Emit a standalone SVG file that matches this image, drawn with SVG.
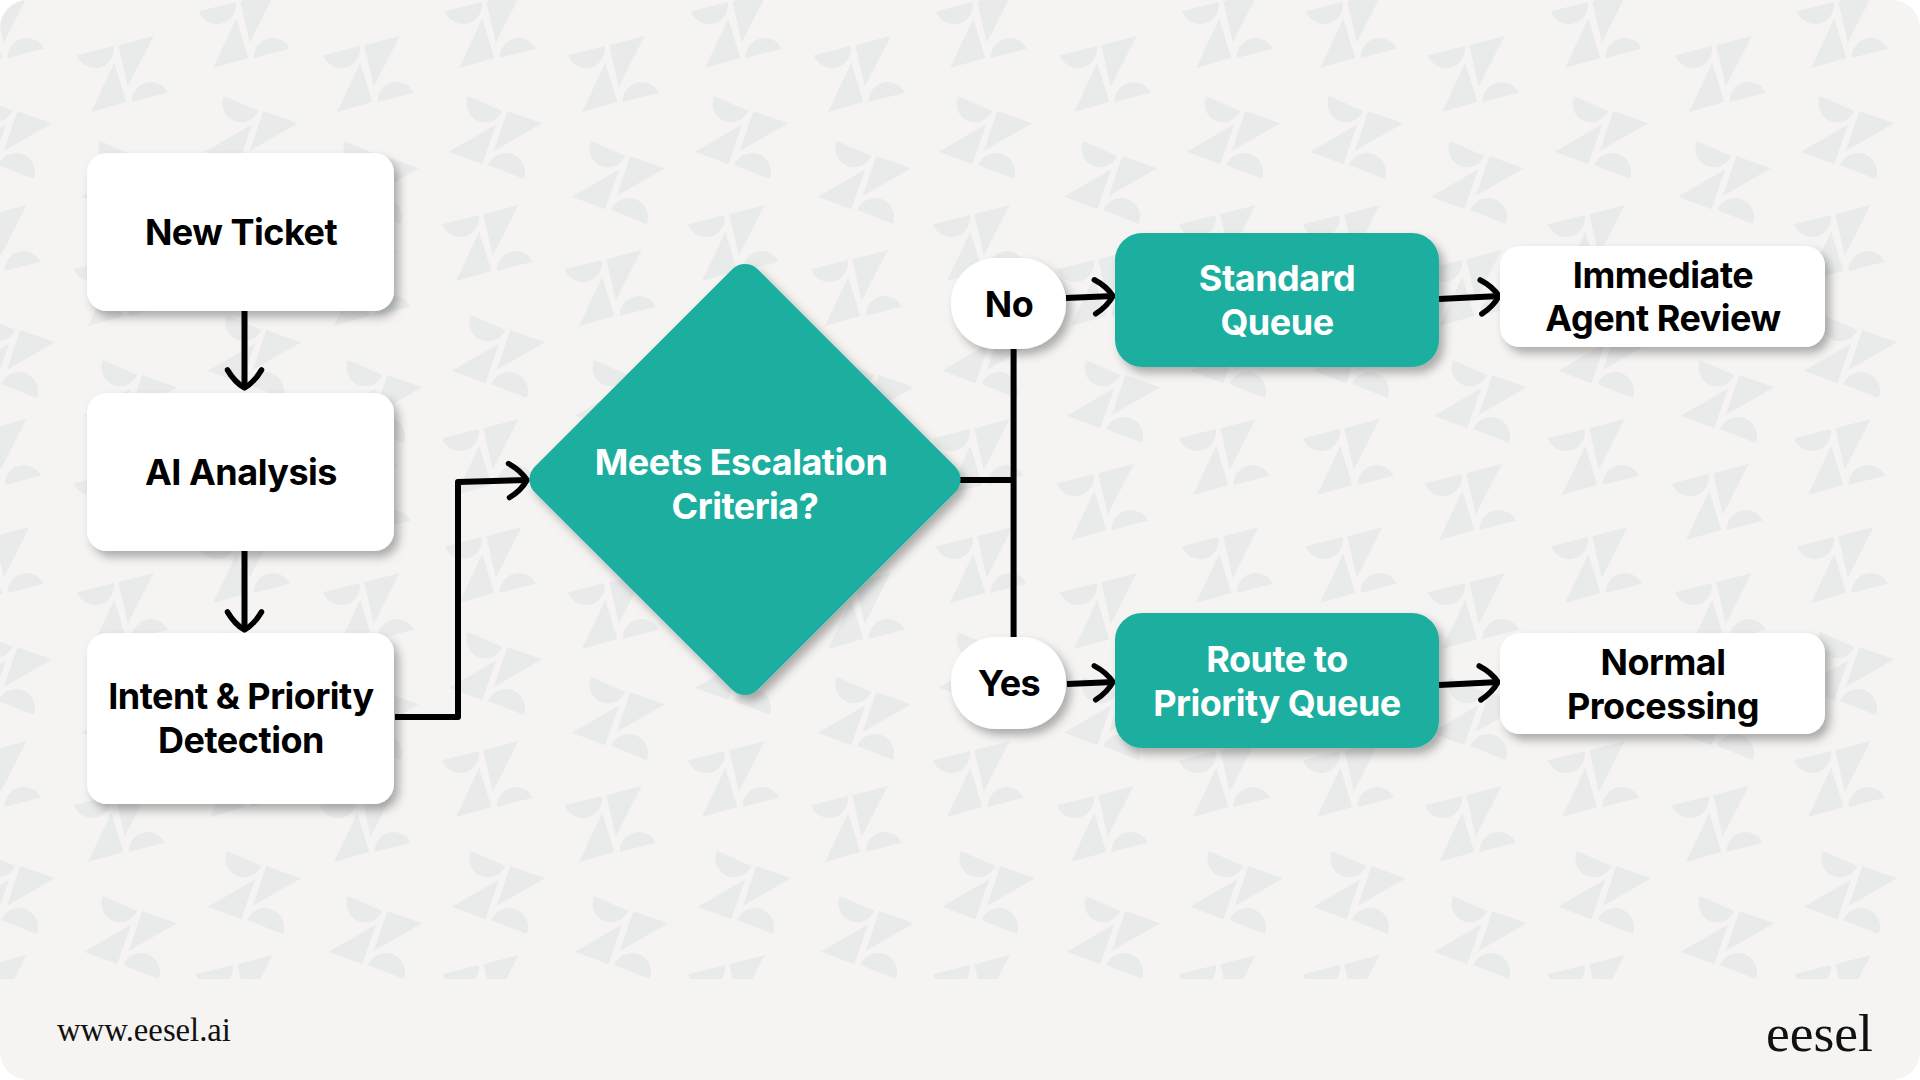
<svg xmlns="http://www.w3.org/2000/svg" xmlns:xlink="http://www.w3.org/1999/xlink" width="1920" height="1080" viewBox="0 0 1920 1080">
<style>
.wm{fill:#e9ebea}
.t{font-family:"Inter","Liberation Sans",sans-serif;font-size:36px;font-weight:700;letter-spacing:-0.5px;text-anchor:middle;fill:#000}
.w{fill:#fff}
.box{fill:#fff}
.teal{fill:#1dafa0}
.sh{filter:url(#shadow)}
.c{fill:none;stroke:#000;stroke-width:6;stroke-linejoin:round}
.f{font-family:"Liberation Serif",serif;fill:#111}
</style>
<defs>
<filter id="shadow" x="-20%" y="-20%" width="145%" height="145%"><feDropShadow dx="5" dy="6" stdDeviation="5" flood-color="#000" flood-opacity="0.3"/></filter>
<marker id="head" markerUnits="userSpaceOnUse" markerWidth="30" markerHeight="44" refX="24" refY="22" orient="auto" overflow="visible">
<path d="M5,5 Q17,12 23,22 Q17,32 5,39" fill="none" stroke="#000" stroke-width="5.5" stroke-linecap="round" stroke-linejoin="round"/>
</marker>
<clipPath id="wmclip"><rect x="0" y="0" width="1920" height="979"/></clipPath>
<clipPath id="card"><rect x="0" y="0" width="1920" height="1080" rx="28"/></clipPath>
<g id="A" class="wm"><path d="M0,19.3A19,19 0 0 0 36.7,10Z"/><path d="M41.3,9.3L76.7,0L50.7,50.7Z"/><path d="M37.3,26.7L49.3,66L14,76Z"/><path d="M54.7,66A19,19 0 0 1 90.7,56.7Z"/></g>
<g id="B" class="wm"><path d="M19,0A18.7,18.7 0 0 0 53.3,15Z"/><path d="M58.3,15L93,27.3L44.7,55Z"/><path d="M47.3,28.3L33.3,68.3L0,55.7Z"/><path d="M39.3,69A18.9,18.9 0 0 1 74.7,83Z"/></g>
<g id="AP"><use href="#A" x="-47"/><use href="#A" x="199"/><use href="#A" x="445"/><use href="#A" x="691"/><use href="#A" x="936"/><use href="#A" x="1182"/><use href="#A" x="1306"/><use href="#A" x="1551"/><use href="#A" x="1797"/></g>
<g id="AQ"><use href="#A" x="77"/><use href="#A" x="323"/><use href="#A" x="568"/><use href="#A" x="814"/><use href="#A" x="1060"/><use href="#A" x="1428"/><use href="#A" x="1675"/></g>
<g id="BP"><use href="#B" x="-41"/><use href="#B" x="205"/><use href="#B" x="449"/><use href="#B" x="695"/><use href="#B" x="939"/><use href="#B" x="1187"/><use href="#B" x="1310"/><use href="#B" x="1555"/><use href="#B" x="1801"/></g>
<g id="BQ"><use href="#B" x="81"/><use href="#B" x="326"/><use href="#B" x="572"/><use href="#B" x="818"/><use href="#B" x="1064"/><use href="#B" x="1431"/><use href="#B" x="1678"/></g>
</defs>
<rect width="1920" height="1080" fill="#fff"/>
<g id="background" clip-path="url(#card)">
<rect width="1920" height="1080" fill="#f5f4f2"/>
<g clip-path="url(#wmclip)">
<use href="#AP" y="-8"/><use href="#AQ" y="36"/><use href="#BP" y="96"/><use href="#BQ" y="141"/>
<use href="#AP" x="-3" y="205"/><use href="#AQ" x="-3" y="250"/><use href="#BP" x="3" y="315"/><use href="#BQ" x="3" y="360"/>
<use href="#AP" x="-3" y="419"/><use href="#AQ" x="-3" y="464"/><use href="#AP" y="527"/><use href="#AQ" y="573"/>
<use href="#BP" y="632"/><use href="#BQ" y="677"/><use href="#AP" x="-3" y="741"/><use href="#AQ" x="-3" y="786"/>
<use href="#BP" x="3" y="851"/><use href="#BQ" x="3" y="896"/><use href="#AP" x="-3" y="955"/>
</g>
</g>
<g id="connectors">
<path class="c" d="M244.5,311V389" marker-end="url(#head)"/>
<path class="c" d="M244.5,551V631" marker-end="url(#head)"/>
<path class="c" stroke-width="6.5" d="M395,717H458V482L528,480" marker-end="url(#head)"/>
<path class="c" d="M959,480H1013"/>
<path class="c" d="M1013.6,349V637"/>
<path class="c" d="M1066,298L1114,296" marker-end="url(#head)"/>
<path class="c" d="M1439,299L1500,296" marker-end="url(#head)"/>
<path class="c" d="M1067,684L1114,682" marker-end="url(#head)"/>
<path class="c" d="M1439,685L1499,682" marker-end="url(#head)"/>
</g>
<g id="node-new-ticket"><rect class="box sh" x="87" y="153" width="307" height="158" rx="20"/><text class="t" x="241" y="245">New Ticket</text></g>
<g id="node-ai-analysis"><rect class="box sh" x="87" y="393" width="307" height="158" rx="20"/><text class="t" x="241" y="485">AI Analysis</text></g>
<g id="node-intent"><rect class="box sh" x="87" y="633" width="307" height="171" rx="20"/><text class="t" x="241" y="709">Intent &amp; Priority</text><text class="t" x="241" y="753">Detection</text></g>
<g id="node-decision"><g class="sh"><rect class="teal" x="-157.7" y="-157.7" width="315.4" height="315.4" rx="18" transform="translate(745 479.5) rotate(45)"/></g><text class="t w" x="741" y="475">Meets Escalation</text><text class="t w" x="745" y="519">Criteria?</text></g>
<g id="node-no"><rect class="box sh" x="951" y="258" width="115" height="91" rx="45"/><text class="t" x="1009" y="317">No</text></g>
<g id="node-yes"><rect class="box sh" x="951" y="637" width="115" height="92" rx="45"/><text class="t" x="1009" y="696">Yes</text></g>
<g id="node-standard"><rect class="teal sh" x="1115" y="233" width="324" height="134" rx="27"/><text class="t w" x="1277" y="291">Standard</text><text class="t w" x="1277" y="335">Queue</text></g>
<g id="node-route"><rect class="teal sh" x="1115" y="613" width="324" height="135" rx="27"/><text class="t w" x="1277" y="672">Route to</text><text class="t w" x="1277" y="716">Priority Queue</text></g>
<g id="node-immediate"><rect class="box sh" x="1500" y="246" width="325" height="101" rx="20"/><text class="t" x="1663" y="288">Immediate</text><text class="t" x="1663" y="331">Agent Review</text></g>
<g id="node-normal"><rect class="box sh" x="1500" y="633" width="325" height="101" rx="20"/><text class="t" x="1663" y="675">Normal</text><text class="t" x="1663" y="719">Processing</text></g>
<g id="footer"><text class="f" x="57" y="1041" font-size="32.7">www.eesel.ai</text><text class="f" x="1766" y="1051" font-size="53.5">eesel</text></g>
</svg>
